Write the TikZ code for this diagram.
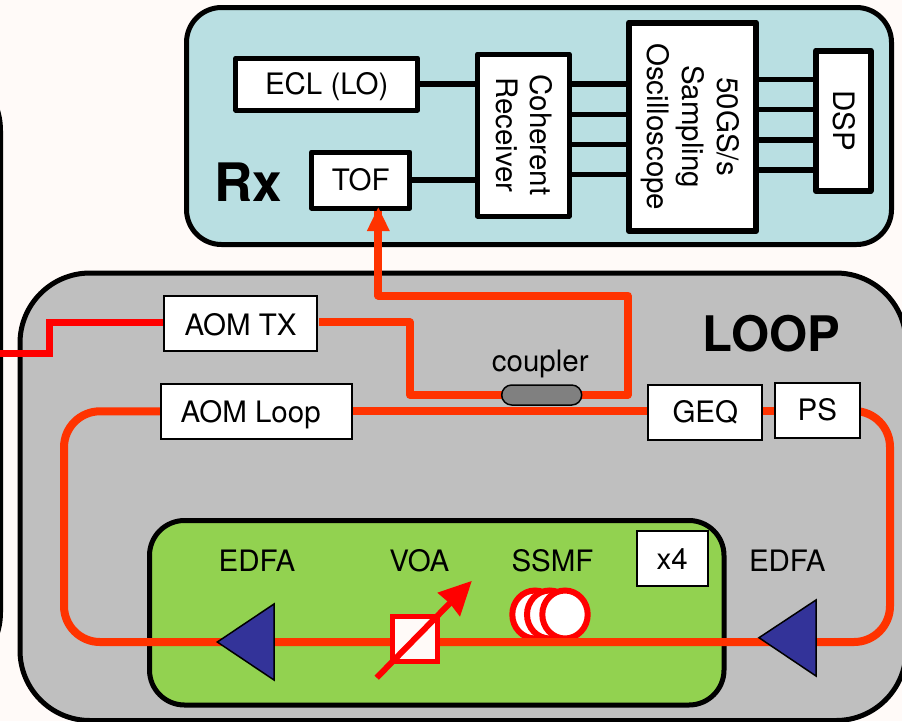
\documentclass[tikz,border=0pt]{standalone}
\usepackage{fontspec}
\setmainfont{TeX Gyre Heros}
\definecolor{bgc}{HTML}{FFFAF8}
\definecolor{rxc}{HTML}{B9DFE2}
\definecolor{loopc}{HTML}{BFBFBF}
\definecolor{greenc}{HTML}{92D250}
\definecolor{fib}{HTML}{FF3300}
\definecolor{edfac}{HTML}{333399}
\definecolor{cplc}{HTML}{808080}
\pgfdeclarelayer{panels}
\pgfdeclarelayer{fibres}
\pgfsetlayers{panels,fibres,main}
\tikzset{
  panel/.style={draw=black,line width=5pt},
  txt/.style={font=\fontsize{29.5}{35}\selectfont,inner sep=0pt,outer sep=0pt},
  lab/.style={txt,anchor=base},
  big/.style={font=\fontsize{#1}{#1}\selectfont\bfseries,inner sep=0pt,anchor=base},
  thick box/.style={txt,draw=black,fill=white,line width=5pt,line join=round},
  thin box/.style={txt,draw=black,fill=white,line width=2pt},
  rot box/.style={thick box,rotate=-90,align=center},
  sig/.style={draw=black,line width=5.5pt},
  fiber/.style={draw=fib,line width=8pt,line join=round},
  redfiber/.style={draw=red,line width=7.5pt,line join=miter},
  amp/.style={draw=black,fill=edfac,line width=1.5pt,line join=miter},
  coil/.style={draw=red,fill=white,line width=6pt},
}
\begin{document}
\begin{tikzpicture}[x=1pt,y=-1pt]
\useasboundingbox (0,0) rectangle (902,721);
\clip (0,0) rectangle (902,721);
% boxes
\node[thin box,line width=1.7pt,minimum width=153pt,minimum height=55pt,text height=22.6pt,text depth=0pt] (aomtx) at (240.6,323.7) {AOM TX};
\node[thin box,minimum width=191pt,minimum height=55pt,text height=22pt,text depth=0pt] (aomloop) at (256.7,411.3) {AOM Loop\kern12pt};
\node[thin box,line width=2.2pt,minimum width=114pt,minimum height=55pt,text height=20pt,text depth=0pt] (geq) at (705.3,412.7) {GEQ};
\node[thin box,line width=2.2pt,minimum width=85pt,minimum height=55pt,text height=20.4pt,text depth=0pt] (ps) at (817.3,410.5) {PS};
\node[thin box,minimum width=71pt,minimum height=55pt,text height=22pt,text depth=0pt] (xfour) at (672.3,558.3) {x4};
\node[thick box,minimum width=181.5pt,minimum height=52pt,text height=20.6pt,text depth=0pt] (ecl) at (326.7,84) {ECL (LO)};
\node[thick box,minimum width=98.5pt,minimum height=56pt,text height=20pt,text depth=0pt] (tof) at (360.7,180) {TOF};
\node[rot box,minimum width=162pt,minimum height=91.5pt] (cr) at (523.25,135) {\raisebox{-9pt}[30pt][30pt]{\begin{tabular}{@{}c@{}}Coherent\\[-0.5pt]Receiver\end{tabular}}};
\node[rot box,line width=6pt,minimum width=208.5pt,minimum height=127pt] (scope) at (692.5,126.75) {\raisebox{-9.2pt}[30pt][30pt]{\begin{tabular}{@{}c@{}}50GS/s\\Sampling\\Oscilloscope\end{tabular}}};
\node[rot box,line width=6pt,minimum width=140.5pt,minimum height=54.5pt,text height=20pt,text depth=0pt] (dsp) at (843.25,120.75) {DSP};
% coupler
\node[draw=black,fill=cplc,line width=1.5pt,rounded corners=10pt,minimum width=80pt,minimum height=20pt,inner sep=0pt,outer sep=0pt] (cpl) at (541.7,395) {};
\node[lab] (cpllab) at (540.3,371.7) {coupler};
% route points
\coordinate (rin) at (-5,353.6);
\coordinate (c0) at (49.7,353.6);
\coordinate (c00) at (49.7,322.3);
\coordinate (c1) at (410,322.3);
\coordinate (c2) at (410,395);
\coordinate (c3) at (627.7,395);
\coordinate (c4) at (627.7,295.5);
\coordinate (c5) at (378.3,295.5);
\coordinate (lt) at (64,411.3);
\coordinate (lb) at (64,642);
\coordinate (rb) at (890,642);
\coordinate (rt) at (890,411);
\coordinate (loopin) at (aomloop.center);
% panels
\begin{pgfonlayer}{panels}
\fill[bgc] (0,0) rectangle (902,721);
\draw[panel,fill=bgc,rounded corners=70pt] (-200,60.6) rectangle (0.5,682.4);
\draw[panel,fill=rxc,rounded corners=35pt] (186.5,7.5) rectangle (891.5,244.5);
\draw[panel,fill=loopc,rounded corners=70pt] (20,273) rectangle (906,720.5);
\draw[panel,fill=greenc,rounded corners=35pt] (149.5,520.5) rectangle (724,705);
\end{pgfonlayer}
% signal connectors and fibres run beneath the boxes
\begin{pgfonlayer}{fibres}
\draw[sig] (ecl.east) -- (ecl.east -| cr.center);
\draw[sig] (tof.east) -- (tof.east -| cr.center);
\foreach \y in {84,114.3,144.3,174.3}
  \draw[sig] (cr.center |- 0,\y) -- (scope.center |- 0,\y);
\foreach \y in {79.3,109.7,140,170}
  \draw[sig] (scope.center |- 0,\y) -- (dsp.center |- 0,\y);
\draw[coil] (535,614.5) ellipse (22.7pt and 24pt);
\draw[coil] (549.7,614.5) ellipse (22.7pt and 24pt);
\draw[coil] (565,614.5) ellipse (22.7pt and 24pt);
\draw[redfiber] (rin) -- (c0) -- (c00) -- (aomtx.center |- c00);
\draw[fiber] ([xshift=2pt]aomtx.east |- c1) -- (c1) -- (c2) -- (cpl.center);
\draw[fiber] (cpl.center) -- (c3) -- (c4) -- (c5) -- (tof.south -| c5);
\draw[fiber] (aomloop.center) -- (geq.center |- aomloop.center);
\draw[fiber] (geq.center |- rt) -- (ps.center |- rt);
\draw[fiber,rounded corners=36pt] (ps.center |- rt) -- (rt) -- (rb) -- (lb) -- (lt) -- (loopin);
\end{pgfonlayer}
% arrow to TOF
\path[fill=fib] (378.3,207.5) -- (389.8,231) -- (366.8,231) -- cycle;
% amplifiers
\draw[amp] (217.3,642) -- (274,604) -- (274,680) -- cycle;
\draw[amp] (759,637.7) -- (816,600) -- (816,676) -- cycle;
% VOA
\draw[draw=red,fill=bgc,line width=5pt,line join=miter] (392,616) rectangle (437.5,661.5);
\draw[draw=red,line width=6pt] (376.7,677.7) -- (452,601);
\fill[red] (471.7,581) -- (437.3,592.7) -- (450,603.5) -- (460,616.7) -- cycle;
% labels
\node[big=53] (rxlab) at (248.3,201) {Rx};
\node[big=49] (looplab) at (771.5,351) {LOOP};
\node[lab] (e1) at (257,571.7) {EDFA};
\node[lab] (voa) at (419.3,571.7) {VOA};
\node[lab] (ssmf) at (552.5,571.7) {SSMF};
\node[lab] (e2) at (787.3,571.7) {EDFA};
\end{tikzpicture}
\end{document}
